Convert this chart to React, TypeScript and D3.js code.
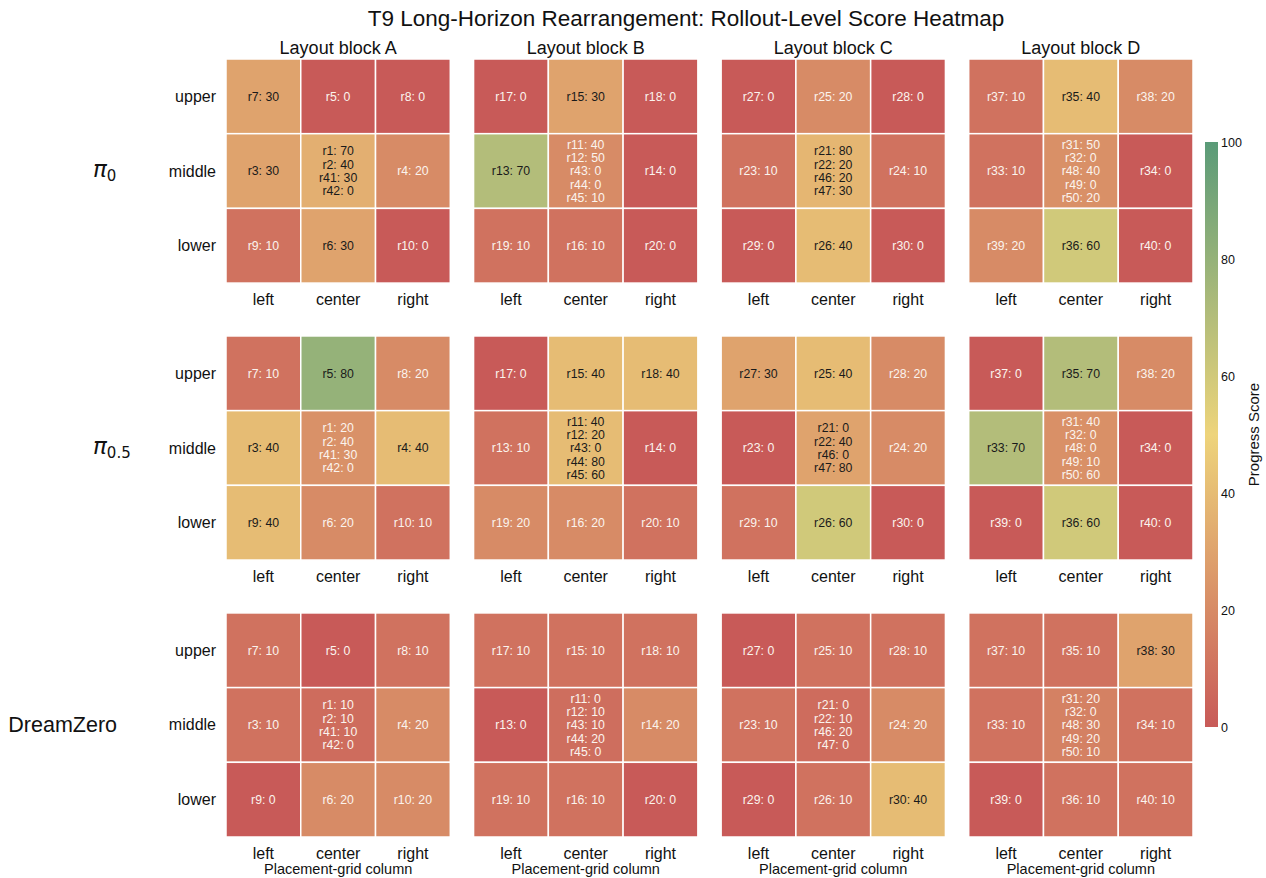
import React, { useEffect } from 'react';
import * as d3 from 'd3';

const policies = ['pi0', 'pi05', 'DreamZero'];
const blocks = ['Layout block A', 'Layout block B', 'Layout block C', 'Layout block D'];
const rowNames = ['upper', 'middle', 'lower'];
const colNames = ['left', 'center', 'right'];

// rollout ids in each cell, per block: [row][col] -> ids
const blockA = [[[7], [5], [8]], [[3], [1, 2, 41, 42], [4]], [[9], [6], [10]]];
const blockB = [[[17], [15], [18]], [[13], [11, 12, 43, 44, 45], [14]], [[19], [16], [20]]];
const blockC = [[[27], [25], [28]], [[23], [21, 22, 46, 47], [24]], [[29], [26], [30]]];
const blockD = [[[37], [35], [38]], [[33], [31, 32, 48, 49, 50], [34]], [[39], [36], [40]]];
const blockCells = [blockA, blockB, blockC, blockD];

// scores for rollouts r1..r50
const scoresPi0 = [
  70, 40, 30, 20, 0, 30, 30, 0, 10, 0,
  40, 50, 70, 0, 30, 10, 0, 0, 10, 0,
  80, 20, 10, 10, 20, 40, 0, 0, 0, 0,
  50, 0, 10, 0, 40, 60, 10, 20, 20, 0,
  30, 0, 0, 0, 10, 20, 30, 40, 0, 20,
];
const scoresPi05 = [
  20, 40, 40, 40, 80, 20, 10, 20, 40, 10,
  40, 20, 10, 0, 40, 20, 0, 40, 20, 10,
  0, 40, 0, 20, 40, 60, 30, 20, 10, 0,
  40, 0, 70, 0, 70, 60, 0, 20, 0, 0,
  30, 0, 0, 80, 60, 0, 80, 0, 10, 60,
];
const scoresDreamZero = [
  10, 10, 10, 20, 0, 20, 10, 10, 0, 20,
  0, 10, 0, 20, 10, 10, 10, 10, 10, 0,
  0, 10, 10, 20, 10, 10, 0, 10, 0, 40,
  20, 0, 10, 10, 10, 10, 10, 30, 0, 10,
  10, 0, 10, 20, 0, 20, 0, 30, 20, 10,
];
const policyScores = [scoresPi0, scoresPi05, scoresDreamZero];

const cbTicks = [0, 20, 40, 60, 80, 100];

const FONT = '"Liberation Sans", Arial, Helvetica, sans-serif';

const color = d3
  .scaleLinear<string>()
  .domain([0, 50, 100])
  .range(['#c85a58', '#eed47b', '#5a9b78'])
  .interpolate(d3.interpolateRgb)
  .clamp(true);

export default function App() {
  useEffect(() => {
    document.body.style.margin = '0';
  }, []);

  const W = 1266;
  const H = 878;

  const xBlock = d3.scaleBand().domain(blocks).range([226, 1193]).paddingInner(0.094);
  const yPolicy = d3.scaleBand().domain(policies).range([59, 837]).paddingInner(0.191);
  const xCol = d3.scaleBand().domain(colNames).range([0, xBlock.bandwidth()]);
  const yRow = d3.scaleBand().domain(rowNames).range([0, yPolicy.bandwidth()]);
  const cbY = d3.scaleLinear().domain([0, 100]).range([727, 142]);

  const lineH = 13.3;

  return (
    <svg width={W} height={H} style={{ display: 'block', fontFamily: FONT }}>
      <rect width={W} height={H} fill="#fff" />
      <text x={686} y={26} textAnchor="middle" fontSize={22.5} fill="#111">
        T9 Long-Horizon Rearrangement: Rollout-Level Score Heatmap
      </text>

      {policies.map((p, pi) => {
        const py = yPolicy(p)!;
        const scores = policyScores[pi];
        const midY = py + yPolicy.bandwidth() / 2;
        return (
          <g key={p}>
            {p === 'DreamZero' ? (
              <text x={117} y={midY + 7} textAnchor="end" fontSize={21.5} fill="#111">
                DreamZero
              </text>
            ) : (
              <text x={93} y={midY + 6} fontSize={23} fill="#111">
                <tspan fontStyle="italic" fontFamily='"DejaVu Sans", sans-serif'>π</tspan>
                <tspan fontSize={15} dy={4} fontFamily='"DejaVu Sans", sans-serif'>
                  {p === 'pi0' ? '0' : '0.5'}
                </tspan>
              </text>
            )}
            {rowNames.map((r) => (
              <text
                key={r}
                x={216}
                y={py + yRow(r)! + yRow.bandwidth() / 2 + 5.5}
                textAnchor="end"
                fontSize={16}
                fill="#111"
              >
                {r}
              </text>
            ))}
            {blocks.map((b, bi) => {
              const bx = xBlock(b)!;
              return (
                <g key={b} transform={`translate(${bx},${py})`}>
                  {pi === 0 && (
                    <text x={xBlock.bandwidth() / 2} y={-5} textAnchor="middle" fontSize={18} fill="#111">
                      {b}
                    </text>
                  )}
                  {rowNames.map((r, ri) =>
                    colNames.map((c, ci) => {
                      const ids = blockCells[bi][ri][ci];
                      const vals = ids.map((id) => scores[id - 1]);
                      const mean = d3.mean(vals)!;
                      const cx = xCol(c)!;
                      const cy = yRow(r)!;
                      const txt = mean < 25 ? '#fbf4ee' : '#1a1a1a';
                      const n = ids.length;
                      const y0 = cy + yRow.bandwidth() / 2 - ((n - 1) * lineH) / 2 + 4.3;
                      return (
                        <g key={r + c}>
                          <rect
                            x={cx}
                            y={cy}
                            width={xCol.bandwidth()}
                            height={yRow.bandwidth()}
                            fill={color(mean)}
                            stroke="#fff"
                            strokeWidth={1.5}
                          />
                          {ids.map((id, k) => (
                            <text
                              key={id}
                              x={cx + xCol.bandwidth() / 2}
                              y={y0 + k * lineH}
                              textAnchor="middle"
                              fontSize={12.3}
                              fill={txt}
                            >
                              {`r${id}: ${scores[id - 1]}`}
                            </text>
                          ))}
                        </g>
                      );
                    })
                  )}
                  {colNames.map((c) => (
                    <text
                      key={c}
                      x={xCol(c)! + xCol.bandwidth() / 2}
                      y={yPolicy.bandwidth() + 22}
                      textAnchor="middle"
                      fontSize={16}
                      fill="#111"
                    >
                      {c}
                    </text>
                  ))}
                  {pi === policies.length - 1 && (
                    <text x={xBlock.bandwidth() / 2} y={yPolicy.bandwidth() + 37} textAnchor="middle" fontSize={14.5} fill="#111">
                      Placement-grid column
                    </text>
                  )}
                </g>
              );
            })}
          </g>
        );
      })}

      <defs>
        <linearGradient id="cbGrad" x1="0" y1="1" x2="0" y2="0">
          {d3.range(0, 101, 10).map((v) => (
            <stop key={v} offset={`${v}%`} stopColor={color(v)} />
          ))}
        </linearGradient>
      </defs>
      <rect x={1205} y={cbY(100)} width={13} height={cbY(0) - cbY(100)} fill="url(#cbGrad)" />
      {cbTicks.map((t) => (
        <text key={t} x={1221} y={cbY(t) + 4.5} fontSize={12.5} fill="#111">
          {t}
        </text>
      ))}
      <text
        transform={`translate(1259,${(cbY(0) + cbY(100)) / 2}) rotate(-90)`}
        textAnchor="middle"
        fontSize={15}
        fill="#111"
      >
        Progress Score
      </text>
    </svg>
  );
}
